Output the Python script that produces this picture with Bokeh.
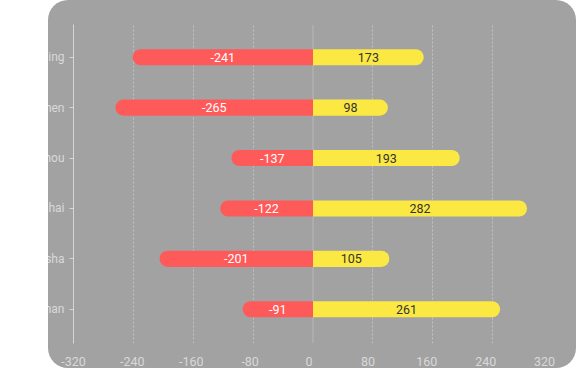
from urllib.parse import quote

from bokeh.plotting import figure
from bokeh.models import Range1d, FixedTicker, LinearAxis, Span, ColumnDataSource, Grid
from bokeh.core.properties import value
from bokeh.embed import file_html
from bokeh.resources import INLINE

# ---- data ----
cities = ["Beijing", "Shenzhen", "Guangzhou", "Shanghai", "Changsha", "Wuhan"]
neg_bar = [-241, -264, -109, -124, -205, -94]      # drawn length of red bars
pos_bar = [148, 100, 196, 286, 102, 250]           # drawn length of yellow bars
neg_label = [-241, -265, -137, -122, -201, -91]    # printed labels
pos_label = [173, 98, 193, 282, 105, 261]
x_ticks = [-320, -240, -160, -80, 0, 80, 160, 240, 320]

n = len(cities)
ypos = [n - 1 - i for i in range(n)]

src = ColumnDataSource(dict(
    y=ypos, neg=neg_bar, pos=pos_bar, zero=[0] * n,
    neg_mid=[v / 2 for v in neg_bar], pos_mid=[v / 2 for v in pos_bar],
    neg_txt=[str(v) for v in neg_label], pos_txt=[str(v) for v in pos_label],
))

FONT = "Roboto"
BG = "#a2a2a2"

p = figure(width=576, height=368, output_backend="svg", toolbar_location=None,
           x_range=Range1d(-320, 320), y_range=Range1d(-0.68, 5.65),
           x_axis_location=None,
           min_border_left=72, min_border_right=24, min_border_top=24, min_border_bottom=24,
           border_fill_color=None, background_fill_color=None, outline_line_color=None)

svg = ("<svg xmlns='http://www.w3.org/2000/svg' width='576' height='368'>"
       f"<rect x='48' y='0' width='528' height='368' rx='20' ry='20' fill='{BG}'/></svg>")
p.styles = {
    "background-image": 'url("data:image/svg+xml;charset=utf-8,' + quote(svg, safe="") + '")',
    "background-repeat": "no-repeat",
}

# grids
for g in p.grid:
    g.visible = False
p.add_layout(Grid(dimension=0, ticker=FixedTicker(ticks=[t for t in x_ticks if t != 0]),
                  grid_line_color="white", grid_line_alpha=0.35, grid_line_dash="2 2"))
p.add_layout(Span(location=0, dimension="height", line_color="white", line_alpha=0.25,
                  line_width=1, level="underlay"))

# y axis (categories)
ya = p.yaxis[0]
ya.ticker = FixedTicker(ticks=ypos)
ya.major_label_overrides = {y: c for y, c in zip(ypos, cities)}
ya.axis_line_color = "white"
ya.axis_line_alpha = 0.55
ya.major_tick_line_color = "white"
ya.major_tick_line_alpha = 0.55
ya.major_tick_out = 4
ya.major_tick_in = 0
ya.minor_tick_line_color = None
ya.major_label_text_color = "white"
ya.major_label_text_alpha = 0.6
ya.major_label_text_font = FONT
ya.major_label_text_font_size = "12px"
ya.major_label_standoff = 5

# x axis labels
p.extra_x_ranges = {"lab": Range1d(-320, 330.8)}
xa = LinearAxis(x_range_name="lab", ticker=FixedTicker(ticks=x_ticks),
                axis_line_color=None, major_tick_line_color=None, minor_tick_line_color=None,
                major_label_text_color="white", major_label_text_alpha=0.6,
                major_label_text_font=FONT, major_label_text_font_size="12.5px",
                major_label_standoff=7)
xa.major_label_overrides = {t: str(t) for t in x_ticks}
p.add_layout(xa, "below")

# bars
p.hbar(y="y", left="neg", right="zero", height=0.32, fill_color="#ff5a5a",
       line_color=None, border_radius=(8, 0, 0, 8), source=src)
p.hbar(y="y", left="zero", right="pos", height=0.32, fill_color="#fce843",
       line_color=None, border_radius=(0, 8, 8, 0), source=src)

# bar labels
p.text(x="neg_mid", y="y", text="neg_txt", text_color="white", text_align="center",
       text_baseline="middle", text_font=value(FONT), text_font_size="12.5px", source=src)
p.text(x="pos_mid", y="y", text="pos_txt", text_color="#333333", text_align="center",
       text_baseline="middle", text_font=value(FONT), text_font_size="12.5px", source=src)

open("out.html", "w").write(file_html(p, INLINE))
